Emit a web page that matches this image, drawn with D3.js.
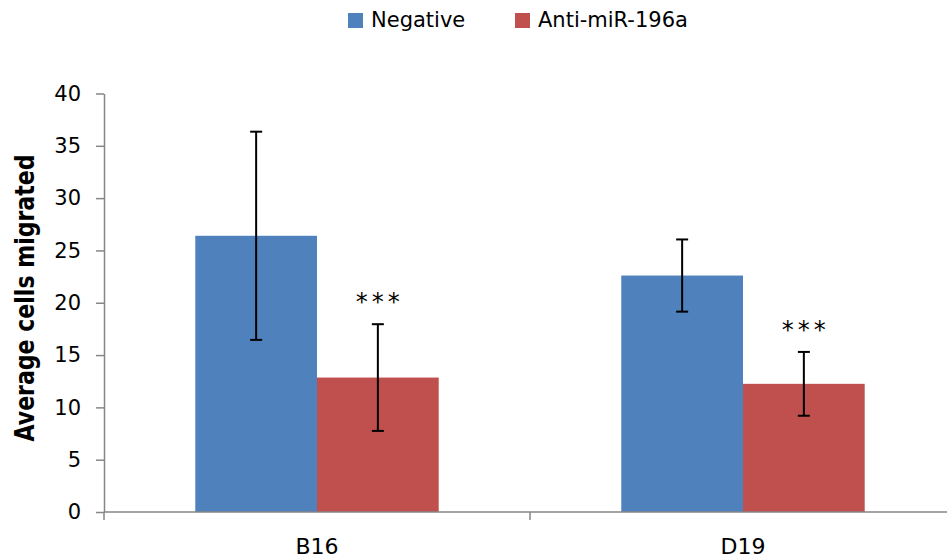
<!DOCTYPE html>
<html>
<head>
<meta charset="utf-8">
<script src="https://cdn.jsdelivr.net/npm/d3@7"></script>
<style>
    body { margin: 0; background: #fff; }
    svg { display: block; font-family: "DejaVu Sans", sans-serif; }
</style>
</head>
<body>
<svg id="chart" width="947" height="558"></svg>
<script>

var categories = ["B16", "D19"];
var seriesNames = ["Negative", "Anti-miR-196a"];
var negative = [26.4, 22.6];
var antiMiR = [12.85, 12.25];
var negativeErr = [9.95, 3.45];
var antiMiRErr = [5.1, 3.05];
var starSeries = ["***", "***"];
var yTicks = [0, 5, 10, 15, 20, 25, 30, 35, 40];

var colors = ["#4F81BD", "#C0504D"];

var svg = d3.select("#chart");

var x = d3.scaleBand().domain(categories).range([104, 956]).padding(0);
var x1 = d3.scaleBand().domain(seriesNames).range([0, x.bandwidth()])
    .paddingInner(0).paddingOuter(0.75);
var y = d3.scaleLinear().domain([0, 40]).range([512, 93.5]);

var data = [];
categories.forEach(function (c, i) {
    data.push({cat: c, series: seriesNames[0], value: negative[i], err: negativeErr[i], star: ""});
    data.push({cat: c, series: seriesNames[1], value: antiMiR[i], err: antiMiRErr[i], star: starSeries[i]});
});

// bars
svg.append("g").selectAll("rect")
    .data(data)
    .enter().append("rect")
    .attr("x", function (d) { return x(d.cat) + x1(d.series); })
    .attr("y", function (d) { return y(d.value); })
    .attr("width", x1.bandwidth())
    .attr("height", function (d) { return y(0) - y(d.value); })
    .attr("fill", function (d) { return colors[seriesNames.indexOf(d.series)]; });

// y axis
var yAxis = svg.append("g")
    .attr("transform", "translate(104,0)")
    .call(d3.axisLeft(y).tickValues(yTicks).tickSize(8).tickSizeOuter(0).tickPadding(15));
yAxis.select(".domain").attr("stroke", "#868686").attr("stroke-width", 1.5);
yAxis.selectAll(".tick line").attr("stroke", "#868686").attr("stroke-width", 1.5);
yAxis.selectAll(".tick text")
    .attr("fill", "#000")
    .style("font-size", "21px")
    .style("font-family", "DejaVu Sans, sans-serif");

// x axis
var xg = svg.append("g");
xg.append("line")
    .attr("x1", x.range()[0]).attr("x2", x.range()[1])
    .attr("y1", y(0)).attr("y2", y(0))
    .attr("stroke", "#868686").attr("stroke-width", 1.5);
xg.selectAll(".xtick")
    .data(categories.map(function (c) { return x(c); }).concat([x.range()[1]]))
    .enter().append("line")
    .attr("x1", function (d) { return d; }).attr("x2", function (d) { return d; })
    .attr("y1", y(0)).attr("y2", y(0) + 8)
    .attr("stroke", "#868686").attr("stroke-width", 1.5);
xg.selectAll(".xlabel")
    .data(categories)
    .enter().append("text")
    .attr("x", function (d) { return x(d) + x.bandwidth() / 2; })
    .attr("y", 554)
    .attr("text-anchor", "middle")
    .style("font-size", "22px")
    .text(function (d) { return d; });

// error bars
var eb = svg.append("g").selectAll("g")
    .data(data)
    .enter().append("g")
    .attr("transform", function (d) {
        return "translate(" + (x(d.cat) + x1(d.series) + x1.bandwidth() / 2) + ",0)";
    });
eb.append("line")
    .attr("y1", function (d) { return y(d.value + d.err); })
    .attr("y2", function (d) { return y(d.value - d.err); })
    .attr("stroke", "#000").attr("stroke-width", 2);
eb.append("line")
    .attr("x1", -6).attr("x2", 6)
    .attr("y1", function (d) { return y(d.value + d.err); })
    .attr("y2", function (d) { return y(d.value + d.err); })
    .attr("stroke", "#000").attr("stroke-width", 2);
eb.append("line")
    .attr("x1", -6).attr("x2", 6)
    .attr("y1", function (d) { return y(d.value - d.err); })
    .attr("y2", function (d) { return y(d.value - d.err); })
    .attr("stroke", "#000").attr("stroke-width", 2);
eb.append("text")
    .attr("x", 2)
    .attr("y", function (d) { return y(d.value + d.err) - 14; })
    .attr("text-anchor", "middle")
    .style("font-size", "24px")
    .style("letter-spacing", "4px")
    .text(function (d) { return d.star; });

// y title
svg.append("text")
    .attr("transform", "translate(34,298) rotate(-90)")
    .attr("text-anchor", "middle")
    .attr("textLength", 287)
    .attr("lengthAdjust", "spacingAndGlyphs")
    .style("font-size", "26px")
    .style("font-weight", "bold")
    .text("Average cells migrated");

// legend
var legendX = [348, 515];
var legend = svg.append("g").selectAll("g")
    .data(seriesNames)
    .enter().append("g")
    .attr("transform", function (d, i) { return "translate(" + legendX[i] + ",0)"; });
legend.append("rect")
    .attr("y", 13).attr("width", 15).attr("height", 15)
    .attr("fill", function (d, i) { return colors[i]; });
legend.append("text")
    .attr("x", 23).attr("y", 27)
    .style("font-size", "21px")
    .text(function (d) { return d; });

</script>
</body>
</html>
